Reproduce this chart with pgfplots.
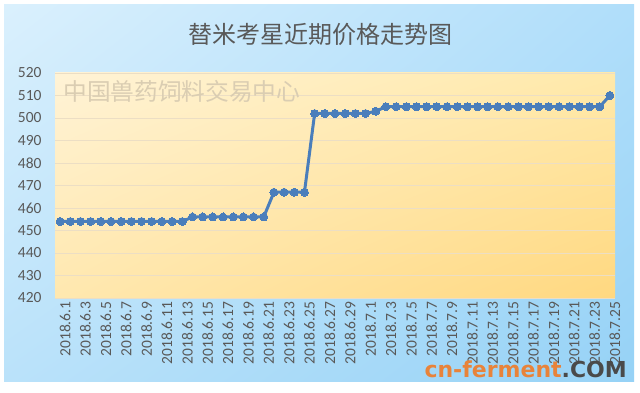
\documentclass[border=0pt]{standalone}
\usepackage{pgfplots}
\pgfplotsset{compat=1.18}
\usetikzlibrary{shadings}
\usepackage{fontspec}
\setmainfont{Carlito}
\newfontfamily\cjk{Noto Sans CJK SC}
\newfontfamily\logofont{DejaVu Sans}
\definecolor{txtgray}{HTML}{595959}
\definecolor{linec}{HTML}{4A7EBB}
\definecolor{logoor}{HTML}{E8833A}
\definecolor{logogr}{HTML}{4A4A4A}
\definecolor{bUL}{RGB}{218,240,253}
\definecolor{bUR}{RGB}{176,222,250}
\definecolor{bLL}{RGB}{186,226,250}
\definecolor{bLR}{RGB}{150,210,246}
\definecolor{yUL}{RGB}{255,243,214}
\definecolor{yUR}{RGB}{255,233,170}
\definecolor{yLL}{RGB}{255,232,175}
\definecolor{yLR}{RGB}{255,216,128}
\definecolor{gridc}{RGB}{236,222,196}
\definecolor{wmark}{RGB}{218,205,178}
\begin{document}
\begin{tikzpicture}[x=1pt,y=1pt]
\fill[white] (0,0) rectangle (640,393);
\shade[upper left=bUL, upper right=bUR, lower left=bLL, lower right=bLR]
  (4,11) rectangle (634,388);
\node[font=\cjk\fontsize{24}{26}\selectfont, text=txtgray] at (320,359) {替米考星近期价格走势图};
\begin{axis}[
  at={(55pt,95pt)}, anchor=south west,
  scale only axis, width=560pt, height=225pt,
  xmin=-0.5, xmax=54.5, ymin=420, ymax=520,
  ytick={420,430,...,520},
  xtick={0,2,...,54},
  xticklabels={2018.6.1,2018.6.3,2018.6.5,2018.6.7,2018.6.9,2018.6.11,2018.6.13,2018.6.15,2018.6.17,2018.6.19,2018.6.21,2018.6.23,2018.6.25,2018.6.27,2018.6.29,2018.7.1,2018.7.3,2018.7.5,2018.7.7,2018.7.9,2018.7.11,2018.7.13,2018.7.15,2018.7.17,2018.7.19,2018.7.21,2018.7.23,2018.7.25},
  /pgf/number format/assume math mode=true,
  tick label style={font=\fontsize{15.5}{16}\selectfont, text=txtgray},
  x tick label style={rotate=90, anchor=east, yshift=-5pt},
  y tick label style={anchor=east, xshift=-10pt},
  major tick length=0pt,
  axis line style={draw=none},
  ymajorgrids, grid style={draw=gridc, line width=0.8pt},
  axis background/.style={shade, upper left=yUL, upper right=yUR, lower left=yLL, lower right=yLR},
  clip=false,
]
\node[font=\cjk\fontsize{23.7}{25}\selectfont, text=wmark, anchor=west, inner sep=0pt] at (axis cs:0.3,512) {中国兽药饲料交易中心};
\addplot[color=linec, line width=3pt, mark=*, mark size=4pt, mark options={fill=linec, draw=linec, line width=0pt}] coordinates {
(0,454)(1,454)(2,454)(3,454)(4,454)(5,454)(6,454)(7,454)(8,454)(9,454)(10,454)(11,454)(12,454)
(13,456)(14,456)(15,456)(16,456)(17,456)(18,456)(19,456)(20,456)
(21,467)(22,467)(23,467)(24,467)
(25,502)(26,502)(27,502)(28,502)(29,502)(30,502)
(31,503)
(32,505)(33,505)(34,505)(35,505)(36,505)(37,505)(38,505)(39,505)(40,505)(41,505)(42,505)(43,505)(44,505)(45,505)(46,505)(47,505)(48,505)(49,505)(50,505)(51,505)(52,505)(53,505)
(54,510)
};
\end{axis}
\node[anchor=east, inner sep=0pt, font=\logofont\bfseries\fontsize{22}{24}\selectfont] at (627,24) {\textcolor{logoor}{cn-ferment}\textcolor{logogr}{.COM}};
\end{tikzpicture}
\end{document}
